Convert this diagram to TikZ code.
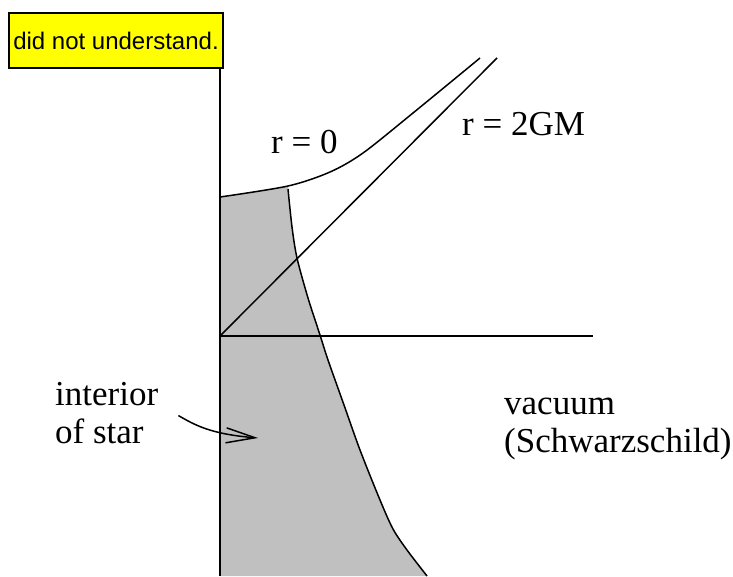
\documentclass[tikz,border=0pt]{standalone}
\usepackage{fontspec}
\setmainfont{Liberation Serif}
\newfontfamily\notefont{Liberation Sans}
\usetikzlibrary{arrows.meta, positioning}
\definecolor{noteyellow}{RGB}{255, 255, 0}
\definecolor{stargray}{RGB}{192, 192, 192}

\begin{document}
\begin{tikzpicture}[
        x=1pt, y=-1pt,
        note/.style={rectangle, draw=black, line width=2pt, fill=noteyellow, minimum width=214pt, minimum height=55pt, inner sep=0pt, font=\notefont\fontsize{24}{28}\selectfont},
        tag/.style={anchor=base west, inner sep=0pt, align=left, font=\fontsize{35}{38}\selectfont},
        edge/.style={line width=1.5pt},
        axis/.style={line width=2pt},
        pointer/.style={-{Straight Barb[length=29pt, width=15pt]}, line width=1.5pt}
    ]
        \useasboundingbox (0,0) rectangle (733,576);
        \coordinate (o) at (220,336);
        \coordinate (low) at (220,576);
        \node[note] (note) at (116,40.5) {did not understand.};

        % star interior
        \fill[stargray] (low) -- (220,197) .. controls (245,193) and (265,190) .. (288,186)
            -- plot[smooth] coordinates {(288,189) (292,227) (297,258) (308,298) (320,335) (328,360) (344,405) (360,450) (380,500) (393,529) (407,550) (427,576)}
            -- cycle;
        \draw[edge] plot[smooth] coordinates {(288,189) (292,227) (297,258) (308,298) (320,335) (328,360) (344,405) (360,450) (380,500) (393,529) (407,550) (427,576)};

        % r = 0 and horizon
        \draw[edge] plot[smooth] coordinates {(220,197) (288,186) (330,172) (363,153) (413,113) (480,58)};
        \draw[edge] (o) -- (497,58);
        \draw[edge] (o) -- (593,336);
        \draw[axis] (note.south -| o) -- (low);

        \node[tag] (r0) at (271,153) {r = 0};
        \node[tag] (rs) at (462,135) {r = 2GM};
        \node[tag] (star) at (55,443) {interior\\of star};
        \node[tag] (vac) at (504,452) {vacuum\\(Schwarzschild)};
        \coordinate (tip) at (258,438);
        \draw[pointer] ([shift={(20pt,-3pt)}]star.east) .. controls (195,425) and (210,434) .. (tip);
\end{tikzpicture}
\end{document}
